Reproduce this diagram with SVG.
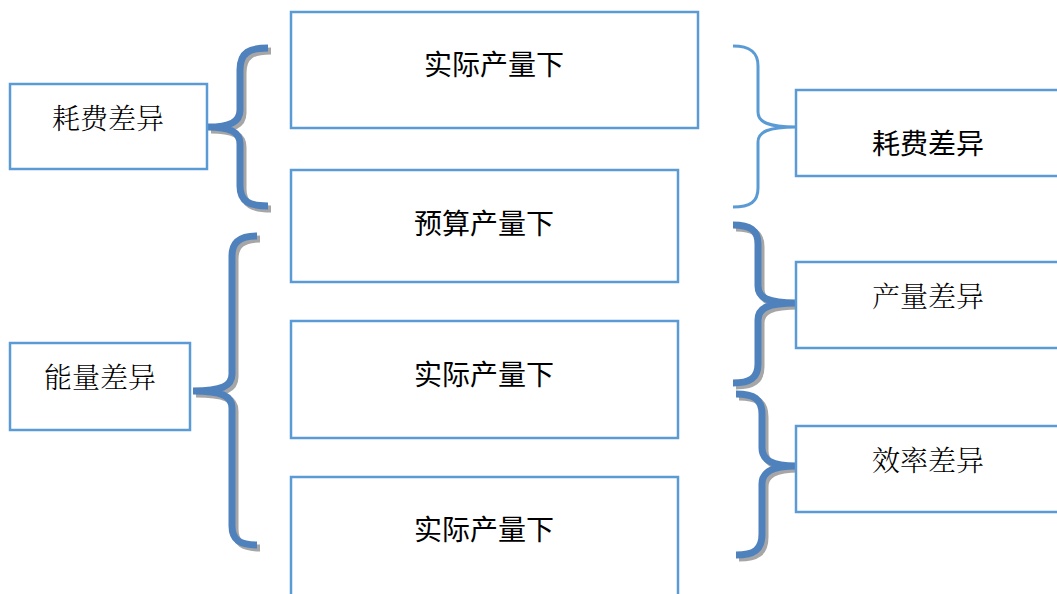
<svg xmlns="http://www.w3.org/2000/svg" width="1057" height="594" viewBox="0 0 1057 594">
<style>
.box{fill:#fff;stroke:#5b9bd5;stroke-width:2.5}
.t{font-family:"Noto Sans CJK SC",sans-serif;font-size:28px;fill:#000;text-anchor:middle;dominant-baseline:central}
.s{font-family:"Noto Serif CJK SC","Noto Sans CJK SC",serif;font-weight:300}
.br{fill:none;stroke:#4f81bd;stroke-width:7;stroke-linecap:butt}
.sh{fill:none;stroke:#a6a6a6;stroke-width:7}
.thin{fill:none;stroke:#5b9bd5;stroke-width:3}
</style>
<g id="connectors">
<g transform="translate(3,3)">
<path class="sh" d="M268,48 C250,48 240,52 240,70 L240,110 C240,122 230,127 208,127 C230,127 240,132 240,144 L240,186 C240,202 250,206 268,206"/>
<path class="sh" d="M257,236 C240,236 232,242 232,256 L232,374 C232,386 222,391 193,391 C222,391 232,396 232,408 L232,526 C232,540 240,545 257,545"/>
<path class="sh" d="M733,225 C750,225 758,230 758,244 L758,286 C758,298 768,303 796,303 C768,303 758,308 758,320 L758,364 C758,378 750,383 733,383"/>
<path class="sh" d="M736,394 C754,394 762,399 762,414 L762,448 C762,460 772,466 796,466 C772,466 762,472 762,484 L762,534 C762,550 754,555 736,555"/>
</g>
<path class="br" d="M268,48 C250,48 240,52 240,70 L240,110 C240,122 230,127 208,127 C230,127 240,132 240,144 L240,186 C240,202 250,206 268,206"/>
<path class="br" d="M257,236 C240,236 232,242 232,256 L232,374 C232,386 222,391 193,391 C222,391 232,396 232,408 L232,526 C232,540 240,545 257,545"/>
<path class="thin" d="M733,46 C750,46 758,52 758,66 L758,112 C758,122 768,127 796,127 C768,127 758,132 758,142 L758,188 C758,202 750,207 733,207"/>
<path class="br" d="M733,225 C750,225 758,230 758,244 L758,286 C758,298 768,303 796,303 C768,303 758,308 758,320 L758,364 C758,378 750,383 733,383"/>
<path class="br" d="M736,394 C754,394 762,399 762,414 L762,448 C762,460 772,466 796,466 C772,466 762,472 762,484 L762,534 C762,550 754,555 736,555"/>
</g>
<g id="left1"><rect class="box" x="10" y="84" width="197" height="85"/><text class="t s" x="108" y="117">耗费差异</text></g>
<g id="left2"><rect class="box" x="10" y="343" width="180" height="87"/><text class="t s" x="100" y="376">能量差异</text></g>
<g id="mid1"><rect class="box" x="291" y="12" width="407" height="116"/><text class="t" x="494" y="63">实际产量下</text></g>
<g id="mid2"><rect class="box" x="291" y="170" width="387" height="112"/><text class="t" x="484" y="222">预算产量下</text></g>
<g id="mid3"><rect class="box" x="291" y="321" width="387" height="117"/><text class="t" x="484" y="373">实际产量下</text></g>
<g id="mid4"><rect class="box" x="291" y="477" width="387" height="130"/><text class="t" x="484" y="528">实际产量下</text></g>
<g id="right1"><rect class="box" x="796" y="90" width="270" height="86"/><text class="t" x="928" y="142">耗费差异</text></g>
<g id="right2"><rect class="box" x="796" y="262" width="270" height="86"/><text class="t s" x="928" y="295">产量差异</text></g>
<g id="right3"><rect class="box" x="796" y="426" width="270" height="86"/><text class="t s" x="928" y="459">效率差异</text></g>
</svg>
